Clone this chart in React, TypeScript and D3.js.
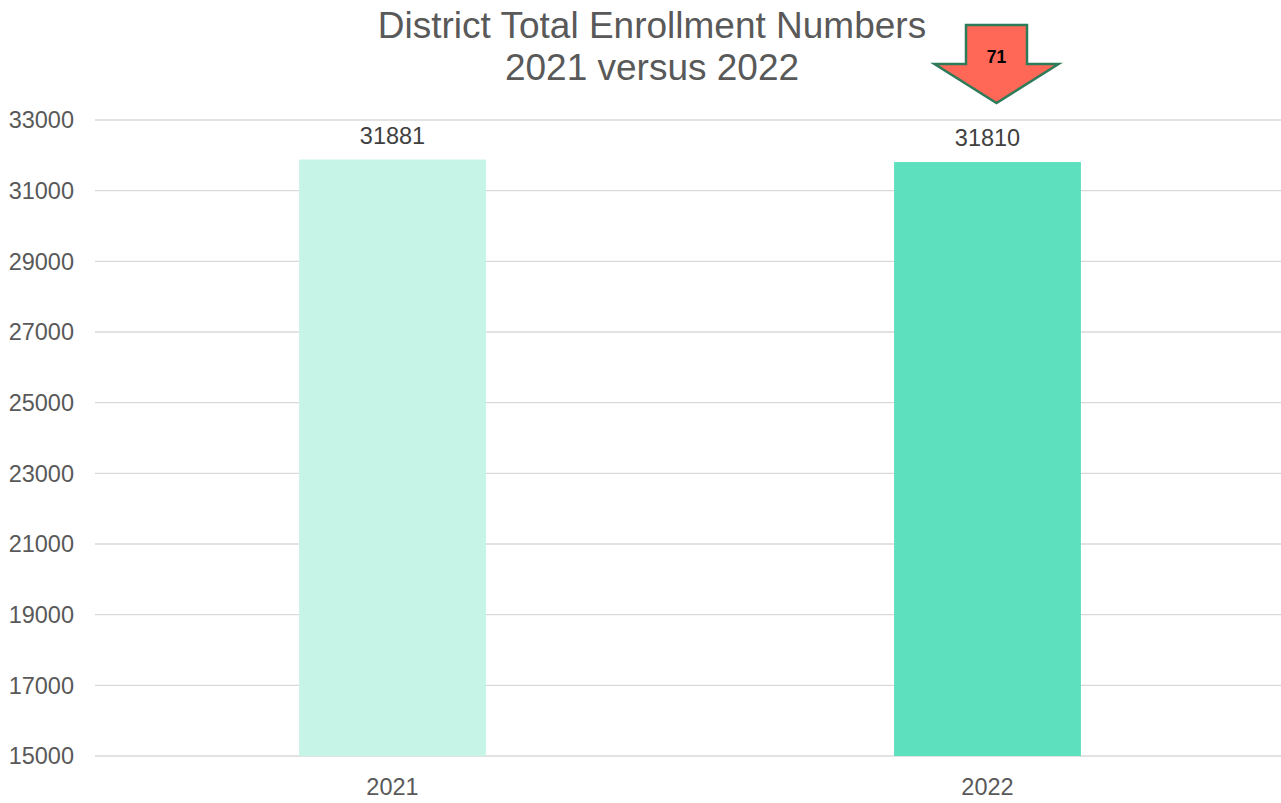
import React from "react";
import * as d3 from "d3";

const categories = ["2021", "2022"];
const values = [31881, 31810];
const yTicks = [15000, 17000, 19000, 21000, 23000, 25000, 27000, 29000, 31000, 33000];
const changeLabel = "71";
const titleLines = ["District Total Enrollment Numbers", "2021 versus 2022"];
const barColors = ["#C6F4E6", "#5CE0BE"];

export default function App() {
  const W = 1281, H = 803;
  const left = 95, right = 1285, gridRight = 1281, top = 120, bottom = 756;
  const x = d3.scaleBand().domain(categories).range([left, right]).paddingInner(0.686).paddingOuter(0.343);
  const y = d3.scaleLinear().domain([15000, 33000]).range([bottom, top]);
  const font = "'Liberation Sans', Arial, sans-serif";
  const cx2 = x("2022")! + x.bandwidth() / 2 + 9;
  const arrowTop = 25, headY = 64, tipY = 103;
  const bodyHalf = 30.5, headHalf = 62;
  const arrowPath = `M${cx2 - bodyHalf},${arrowTop} L${cx2 + bodyHalf},${arrowTop} L${cx2 + bodyHalf},${headY} L${cx2 + headHalf},${headY} L${cx2},${tipY} L${cx2 - headHalf},${headY} L${cx2 - bodyHalf},${headY} Z`;
  return (
    <svg width={W} height={H} style={{ position: "absolute", left: 0, top: 0, background: "#fff" }}>
      {yTicks.map((t) => (
        <g key={t}>
          <line x1={left} x2={gridRight} y1={y(t)} y2={y(t)} stroke="#D9D9D9" strokeWidth={1.3} />
          <text x={74} y={y(t)} dy="0.35em" textAnchor="end" fontFamily={font} fontSize={23.5} fill="#595959">{t}</text>
        </g>
      ))}
      {categories.map((c, i) => (
        <g key={c}>
          <rect x={x(c)!} y={y(values[i])} width={x.bandwidth()} height={y(15000) - y(values[i])} fill={barColors[i]} />
          <text x={x(c)! + x.bandwidth() / 2} y={y(values[i]) - 16} textAnchor="middle" fontFamily={font} fontSize={23.5} fill="#404040">{values[i]}</text>
          <text x={x(c)! + x.bandwidth() / 2} y={795} textAnchor="middle" fontFamily={font} fontSize={23.5} fill="#595959">{c}</text>
        </g>
      ))}
      {titleLines.map((l, i) => (
        <text key={i} x={652} y={38 + i * 42} textAnchor="middle" fontFamily={font} fontSize={37} fill="#595959">{l}</text>
      ))}
      <path d={arrowPath} fill="#FF6757" stroke="#2E7B5A" strokeWidth={2.5} strokeLinejoin="miter" />
      <text x={cx2} y={63} textAnchor="middle" fontFamily={font} fontSize={17.5} fontWeight="bold" fill="#000">{changeLabel}</text>
    </svg>
  );
}
